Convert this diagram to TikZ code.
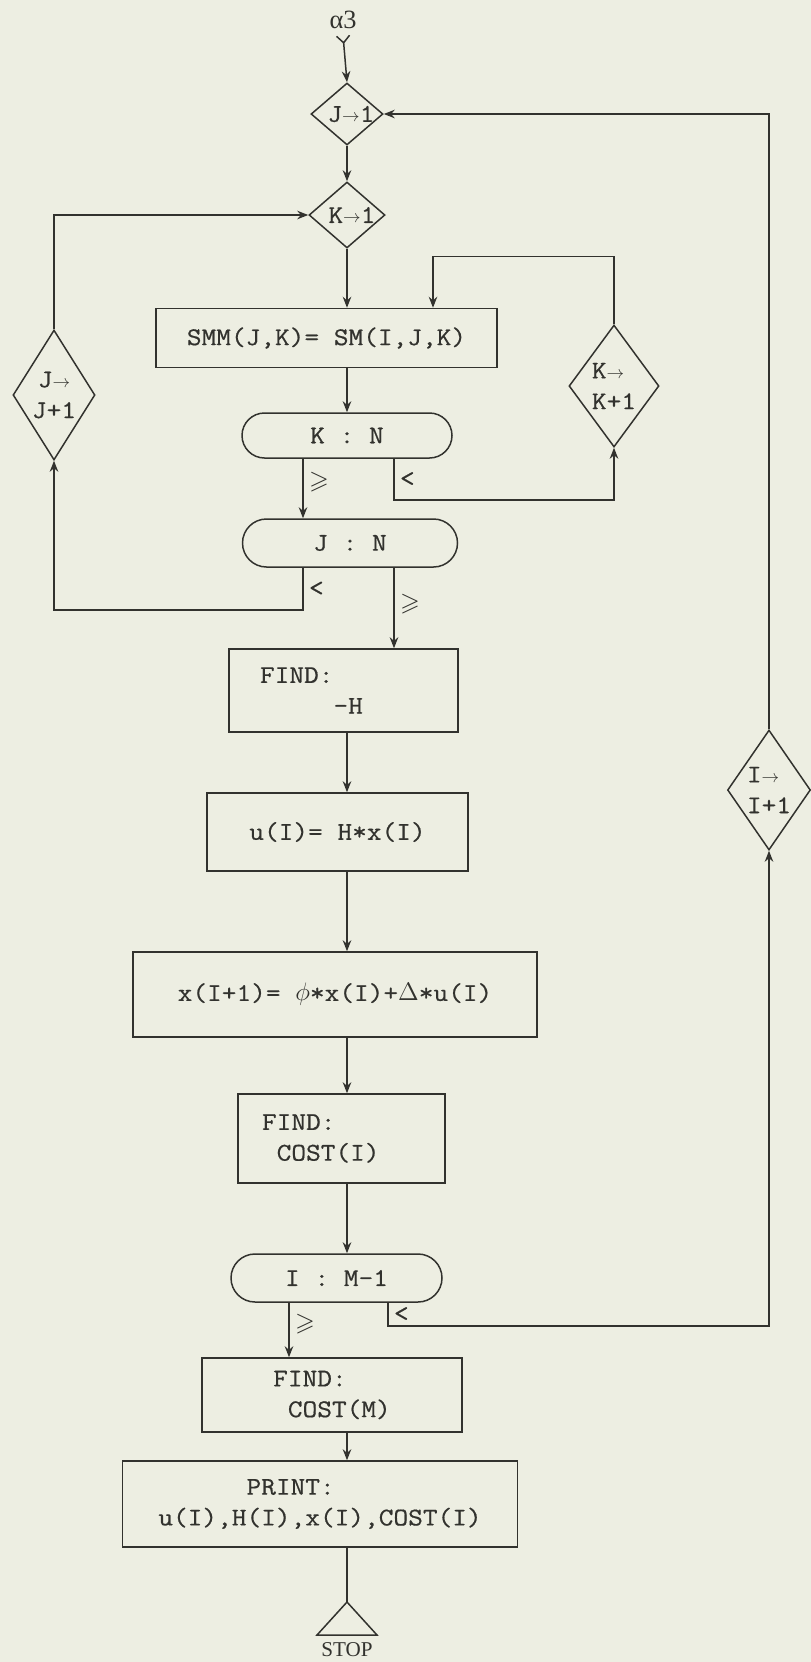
\documentclass[tikz,border=0pt]{standalone}
\usepackage{fontspec}
\usepackage{amssymb}
\setmainfont{Liberation Serif}
\setmonofont{Latin Modern Mono}[FakeStretch=1.12, FakeBold=0.6]
\usetikzlibrary{arrows.meta, shapes.geometric, shapes.misc}
\definecolor{paper}{RGB}{237,238,226}
\definecolor{ink}{RGB}{50,50,46}
\newcommand\tto{$\scriptstyle\rightarrow$}

\begin{document}
\begin{tikzpicture}[
    >={Stealth[length=2.2mm, width=1.7mm]},
    line/.style     = {draw=ink, line width=0.85pt},
    txt/.style      = {text=ink, font=\ttfamily\fontsize{14.5}{17.5}\selectfont},
    block/.style    = {line, txt, rectangle, inner sep=0pt},
    terminal/.style = {line, txt, rounded rectangle, inner sep=0pt},
    decision/.style = {line, diamond, inner sep=0pt},
    cond/.style     = {txt, inner sep=3pt}
]

% Page
\fill[paper] (0,0) rectangle (16.22,-33.24);
\useasboundingbox (0,0) rectangle (16.22,-33.24);

% Entry and loop initialisations
\node[text=ink, font=\fontsize{15}{15}\selectfont] (alpha) at (6.86,-0.40) {α3};
\node[decision, minimum width=1.44cm, minimum height=1.24cm,
      label={[txt, xshift=0.8mm]center:J\tto 1}] (J1) at (6.94,-2.28) {};
\node[decision, minimum width=1.52cm, minimum height=1.32cm,
      label={[txt, xshift=1mm]center:K\tto 1}] (K1) at (6.94,-4.30) {};

% Inner double loop over J and K
\node[block, minimum width=6.82cm, minimum height=1.18cm] (SMM) at (6.53,-6.76) {SMM(J,K)= SM(I,J,K)};
\node[terminal, minimum width=4.20cm, minimum height=0.90cm] (KN) at (6.94,-8.71) {K : N};
\node[terminal, minimum width=4.30cm, minimum height=0.96cm] (JN) at (7.00,-10.86) {J : N};
\node[decision, minimum width=1.64cm, minimum height=2.60cm,
      label={[txt, align=center]center:J\tto\\J+1}] (JJ) at (1.08,-7.90) {};
\node[decision, minimum width=1.80cm, minimum height=2.44cm,
      label={[txt, align=left]center:K\tto\\K+1}] (KK) at (12.28,-7.72) {};

% Gain, control and state update
\node[block, minimum height=1.66cm, text width=3.34cm, inner xsep=0.62cm, align=left] (FH) at (6.87,-13.81) {FIND:\\\hphantom{XXXXX}-H};
\node[block, minimum width=5.22cm, minimum height=1.56cm] (UI) at (6.75,-16.64) {u(I)= H*x(I)};
\node[block, minimum width=8.08cm, minimum height=1.70cm] (XI) at (6.70,-19.89) {x(I+1)= $\phi$*x(I)+$\Delta$*u(I)};
\node[block, minimum height=1.78cm, text width=3.18cm, inner xsep=0.48cm, align=left] (CI) at (6.83,-22.77) {FIND:\\\hphantom{X}COST(I)};
\node[terminal, minimum width=4.22cm, minimum height=0.96cm] (IM) at (6.73,-25.56) {I : M-1};
\node[decision, minimum width=1.66cm, minimum height=2.40cm,
      label={[txt, align=left]center:I\tto\\I+1}] (II) at (15.38,-15.80) {};

% Final cost, printout, stop
\node[block, minimum width=5.20cm, minimum height=1.48cm, align=left] (CM) at (6.64,-27.90) {FIND:\\\hphantom{X}COST(M)};
\node[block, minimum width=7.90cm, minimum height=1.72cm, align=left] (PR) at (6.40,-30.08) {\hphantom{XXXXXX}PRINT:\\u(I),H(I),x(I),COST(I)};
\coordinate (stop) at (6.94,-32.04);
\draw[line] (stop) -- ++(-0.60,-0.66) -- ++(1.20,0) -- cycle;
\node[text=ink, font=\fontsize{12}{12}\selectfont] (stoptxt) at (6.94,-33.00) {STOP};

% Main column
\coordinate (spine) at (6.94,0);
\draw[line, {Straight Barb[reversed, length=1.4mm, width=2.6mm]}->] (alpha.south) -- (J1.north);
\draw[line, ->] (J1.south) -- (K1.north);
\draw[line, ->] (K1.south) -- (K1.south |- SMM.north);
\draw[line, ->] (SMM.south -| spine) -- (KN.north);

% K loop back
\draw[line, ->] ([xshift=9.4mm]KN.south) -- ++(0,-0.82) node[cond, midway, right] {<} -| (KK.south);
\draw[line, ->] (KK.north) -- ++(0,1.36) -| ([xshift=21.3mm]SMM.north);
\draw[line, ->] ([xshift=-8.8mm]KN.south) -- ([xshift=-8.8mm]KN.south |- JN.north)
    node[cond, pos=.4, right] {$\geqslant$};

% J loop back
\draw[line, ->] ([xshift=-9.4mm]JN.south) -- ++(0,-0.84) node[cond, midway, right] {<} -| (JJ.south);
\draw[line, ->] (JJ.north) |- (K1.west);
\draw[line, ->] ([xshift=8.8mm]JN.south) -- ([xshift=8.8mm]JN.south |- FH.north)
    node[cond, pos=.45, right] {$\geqslant$};

% Down the stages
\draw[line, ->] (FH.south -| spine) -- (UI.north -| spine);
\draw[line, ->] (UI.south -| spine) -- (XI.north -| spine);
\draw[line, ->] (XI.south -| spine) -- (CI.north -| spine);
\draw[line, ->] (CI.south -| spine) -- (IM.north -| spine);

% I loop back
\draw[line, ->] ([xshift=10.3mm]IM.south) -- ++(0,-0.46) node[cond, midway, right] {<} -| (II.south);
\draw[line, ->] (II.north) |- (J1.east);
\draw[line, ->] ([xshift=-9.5mm]IM.south) -- ([xshift=-9.5mm]IM.south |- CM.north)
    node[cond, pos=.4, right] {$\geqslant$};

\draw[line, ->] (CM.south -| spine) -- (PR.north -| spine);
\draw[line] (PR.south -| spine) -- (stop);

\end{tikzpicture}
\end{document}
